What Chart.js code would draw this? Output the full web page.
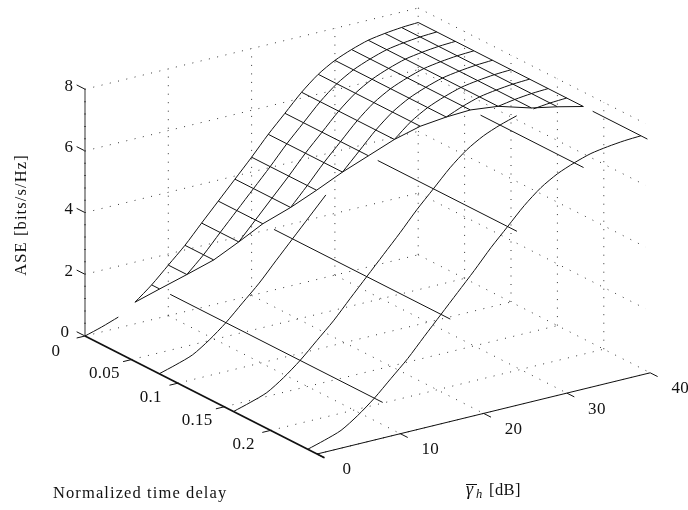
<!DOCTYPE html>
<html>
<head>
<meta charset="utf-8">
<style>
  html, body { margin: 0; padding: 0; background: #fff; }
  canvas { display: block; }
</style>
<script src="https://cdn.jsdelivr.net/npm/chart.js@4"></script>
</head>
<body>
<canvas id="surface" width="688" height="510"></canvas>
<script>
// Surface values, ASE is nearly flat along the delay axis
const gammaGrid = [0, 2, 4, 6, 8, 10, 12, 14, 16, 18, 20, 22, 24, 26, 28, 30, 32, 34, 36, 38, 40];
const aseValues = [0, 0.16, 0.35, 0.70, 1.13, 1.64, 2.15, 2.74, 3.32, 3.90, 4.48, 5.09, 5.64, 6.19, 6.64, 6.96, 7.18, 7.35, 7.44, 7.50, 7.53];
// where the dense mesh stops along the delay axis, for each gamma
const tauEdge = [0, 0, 0, 0, 0.0086, 0.02, 0.031, 0.04, 0.048, 0.06, 0.07, 0.08, 0.09, 0.10, 0.11, 0.12, 0.128, 0.14, 0.158, 0.168, 0.178];

// dense mesh curves along gamma
const denseTau = [0.02, 0.04, 0.06, 0.08, 0.10, 0.12, 0.14, 0.16];
const denseGammaStart = [10, 14, 18, 22, 26, 30, 34, 36];

// sparse part of the surface
const sparseTau = [0.08, 0.16, 0.24];
const sparseGammaEnd = [20, 34, 40];
const sparseGamma = [8, 16, 24, 32, 40];
const sparseTauStart = [0.02, 0.06, 0.10, 0.139, 0.188];
const sparseTauEnd = [0.249, 0.25, 0.25, 0.25, 0.247];

// ticks
const gammaTicks = [0, 10, 20, 30, 40];
const tauTicks = [0, 0.05, 0.1, 0.15, 0.2];
const aseTicks = [0, 2, 4, 6, 8];
const tauMax = 0.25;

// view of the 3D box on the hidden page scales
function project(g, t, z) {
  return {
    x: 85 + 8.33 * g + 928 * t,
    y: 336 - 2.03 * g + 472 * t - 30.85 * z
  };
}

function aseAt(g) {
  return aseValues[gammaGrid.indexOf(g)];
}

function gammaCurve(t, from, to) {
  return gammaGrid.filter(g => g >= from && g <= to).map(g => project(g, t, aseAt(g)));
}

function tauLine(g, t0, t1) {
  return [project(g, t0, aseAt(g)), project(g, t1, aseAt(g))];
}

const datasets = [];
function addLine(points, style) {
  datasets.push(Object.assign({ data: points, showLine: true, pointRadius: 0, tension: 0, fill: false }, style));
}

const meshStyle = { borderColor: '#111', borderWidth: 1 };
const curveStyle = { borderColor: '#111', borderWidth: 1, tension: 0.25 };
const axisStyle = { borderColor: '#111', borderWidth: 1 };
const dotStyle = { borderColor: '#333', borderWidth: 1, borderDash: [1, 7.5] };

// surface: tau = 0 edge has a small gap
addLine(gammaCurve(0, 0, 4), curveStyle);
addLine(gammaCurve(0, 6, 40), curveStyle);

// dense mesh
denseTau.forEach((t, i) => addLine(gammaCurve(t, denseGammaStart[i], 40), curveStyle));
gammaGrid.filter(g => g >= 8).forEach(g => addLine(tauLine(g, 0, tauEdge[gammaGrid.indexOf(g)]), meshStyle));
addLine(gammaGrid.filter(g => g >= 6).map(g => project(g, tauEdge[gammaGrid.indexOf(g)], aseAt(g))), meshStyle);

// sparse lines
sparseTau.forEach((t, i) => addLine(gammaCurve(t, 0, sparseGammaEnd[i]), curveStyle));
sparseGamma.forEach((g, i) => addLine(tauLine(g, sparseTauStart[i], sparseTauEnd[i]), meshStyle));

// axes and tick marks
addLine([project(0, 0, 0), project(0, 0.258, 0)], { borderColor: '#111', borderWidth: 1.8 });
addLine([project(0, tauMax, 0), project(40, tauMax, 0)], axisStyle);
addLine([project(0, 0, 0), project(0, 0, 8)], { borderColor: '#333', borderWidth: 1.6, borderDash: [1, 11.3] });
addLine([project(0, 0, 0), project(0, 0, 8)], { borderColor: '#808080', borderWidth: 1.6 });
gammaTicks.forEach(g => addLine([project(g, tauMax, 0), project(g, tauMax + 0.008, 0)], axisStyle));
tauTicks.forEach(t => addLine([project(0, t, 0), project(-1, t, 0)], axisStyle));
aseTicks.forEach(z => addLine([project(0, 0, z), project(0, -0.009, z)], axisStyle));

// dotted box grid
gammaTicks.forEach(g => {
  if (g > 0) addLine([project(g, 0, 0), project(g, tauMax, 0)], dotStyle);
  if (g > 0) addLine([project(g, 0, 0), project(g, 0, 8)], dotStyle);
});
tauTicks.concat([tauMax]).forEach(t => {
  if (t > 0 && t < tauMax) addLine([project(40, t, 0), project(40, t, 8)], dotStyle);
  if (t > 0) addLine([project(0, t, 0), project(40, t, 0)], dotStyle);
});
aseTicks.forEach(z => {
  if (z > 0) addLine([project(0, 0, z), project(40, 0, z)], dotStyle);
  if (z > 0) addLine([project(40, 0, z), project(40, 0.245, z)], dotStyle);
});
addLine([project(0, 0, 0), project(40, 0, 0)], dotStyle);

const serif = '"Liberation Serif", serif';

const labelsPlugin = {
  id: 'labels',
  afterDraw(chart) {
    const ctx = chart.ctx;
    const sx = chart.scales.x, sy = chart.scales.y;
    const put = (text, p, dx, dy) => {
      ctx.fillText(text, sx.getPixelForValue(p.x) + dx, sy.getPixelForValue(p.y) + dy);
    };
    ctx.save();
    ctx.fillStyle = '#111';
    ctx.font = '17px ' + serif;
    ctx.letterSpacing = '0.3px';
    ctx.textAlign = 'center';
    ctx.textBaseline = 'middle';
    aseTicks.forEach(z => put(String(z), project(0, 0, z), z === 0 ? -20 : -16, -3));
    tauTicks.forEach(t => put(String(t), project(0, t, 0), t === 0 ? -29 : -27, t === 0 ? 16 : 14));
    gammaTicks.forEach(g => put(String(g), project(g, tauMax, 0), 30, 16));

    // axis titles
    ctx.font = '16.5px ' + serif;
    ctx.letterSpacing = '1.1px';
    ctx.textAlign = 'left';
    ctx.textBaseline = 'alphabetic';
    ctx.fillText('Normalized time delay', 53, 498);

    ctx.save();
    ctx.translate(26, 215);
    ctx.rotate(-Math.PI / 2);
    ctx.textAlign = 'center';
    ctx.fillText('ASE [bits/s/Hz]', 0, 0);
    ctx.restore();

    ctx.letterSpacing = '0px';
    ctx.font = 'italic 18px ' + serif;
    ctx.fillText('\u03B3', 466, 495);
    ctx.font = 'italic 12.5px ' + serif;
    ctx.fillText('h', 476, 498);
    ctx.font = '16.5px ' + serif;
    ctx.letterSpacing = '0.4px';
    ctx.fillText('[dB]', 489, 495);
    ctx.strokeStyle = '#111';
    ctx.lineWidth = 1;
    ctx.beginPath();
    ctx.moveTo(466, 484.5);
    ctx.lineTo(477, 484.5);
    ctx.stroke();
    ctx.restore();
  }
};

new Chart(document.getElementById('surface').getContext('2d'), {
  type: 'scatter',
  data: { datasets: datasets },
  options: {
    responsive: false,
    animation: false,
    layout: { padding: 0 },
    plugins: { legend: { display: false }, tooltip: { enabled: false } },
    scales: {
      x: { type: 'linear', display: false, min: 0, max: 688 },
      y: { type: 'linear', display: false, min: 0, max: 510, reverse: true }
    }
  },
  plugins: [labelsPlugin]
});
</script>
</body>
</html>
